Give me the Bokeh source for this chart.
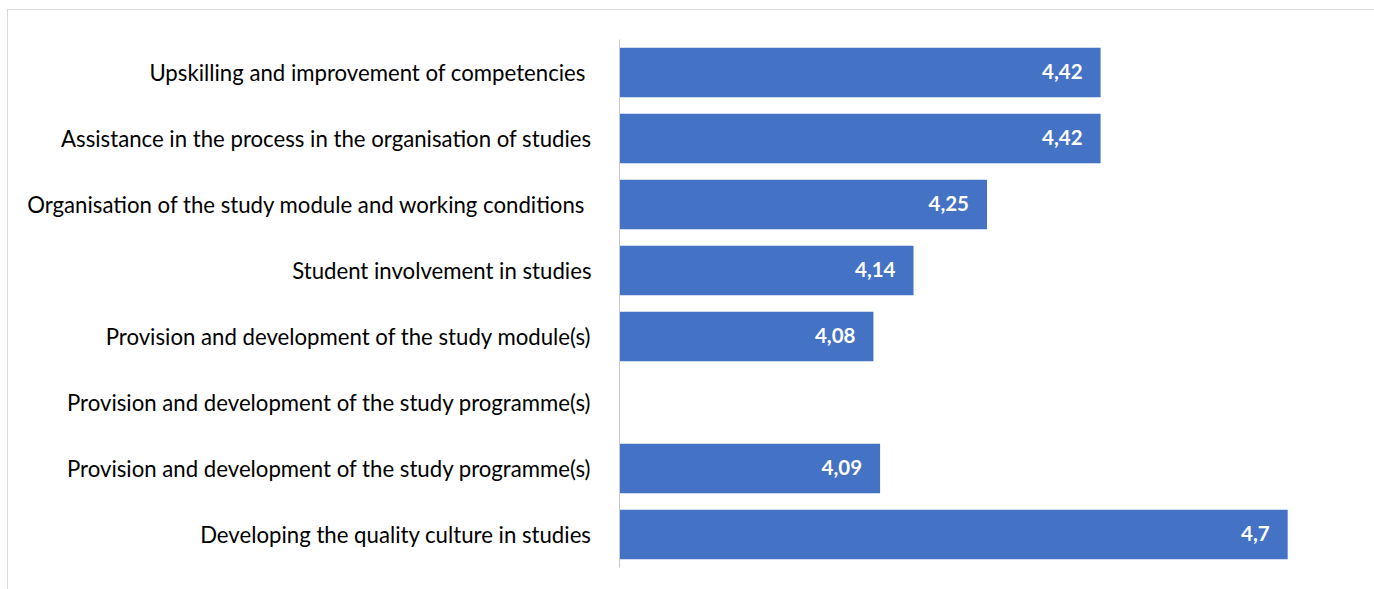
from bokeh.plotting import figure
from bokeh.models import ColumnDataSource, Range1d, FixedTicker
from bokeh.core.properties import value
from bokeh.embed import file_html
from bokeh.resources import INLINE

# categories listed top to bottom
categories = [
    "Upskilling and improvement of competencies ",
    "Assistance in the process in the organisation of studies",
    "Organisation of the study module and working conditions ",
    "Student involvement in studies",
    "Provision and development of the study module(s)",
    "Provision and development of the study programme(s)",
    "Provision and development of the study programme(s)",
    "Developing the quality culture in studies",
]
scores = [4.42, 4.42, 4.25, 4.14, 4.08, None, 4.09, 4.7]

n = len(categories)
positions = [n - i for i in range(n)]

xs, ys, labels = [], [], []
for pos, v in zip(positions, scores):
    if v is not None:
        xs.append(v)
        ys.append(pos)
        labels.append(str(v).replace(".", ","))
src = ColumnDataSource(dict(x=xs, y=ys, label=labels))

FONT = "Lato"

p = figure(width=1367, height=580, output_backend="svg", toolbar_location=None,
           x_range=Range1d(3.7, 4.8), y_range=Range1d(0.5, n + 0.5),
           min_border_left=611, min_border_right=21, min_border_top=29, min_border_bottom=23)
p.styles = {"border-top": "1px solid #d9d9d9", "border-left": "1px solid #d9d9d9",
            "margin-left": "7px", "margin-top": "9px"}
p.outline_line_color = None
p.grid.visible = False
p.xaxis.visible = False

p.hbar(y="y", right="x", left=3.7, height=0.75, source=src,
       fill_color="#4472C4", line_color=None)

p.text(x="x", y="y", text="label", source=src, text_align="right", text_baseline="middle",
       x_offset=-18, y_offset=-1, text_color="white", text_font=value(FONT),
       text_font_style="bold", text_font_size="20.5px")

ax = p.yaxis[0]
ax.ticker = FixedTicker(ticks=positions)
ax.major_label_overrides = {pos: c for pos, c in zip(positions, categories)}
ax.major_tick_line_color = None
ax.minor_tick_line_color = None
ax.major_label_standoff = 22
ax.axis_line_color = "#c8c8c8"
ax.major_label_text_font = FONT
ax.major_label_text_font_size = "22.2px"
ax.major_label_text_color = "#000000"

open("out.html", "w").write(file_html(p, INLINE))
